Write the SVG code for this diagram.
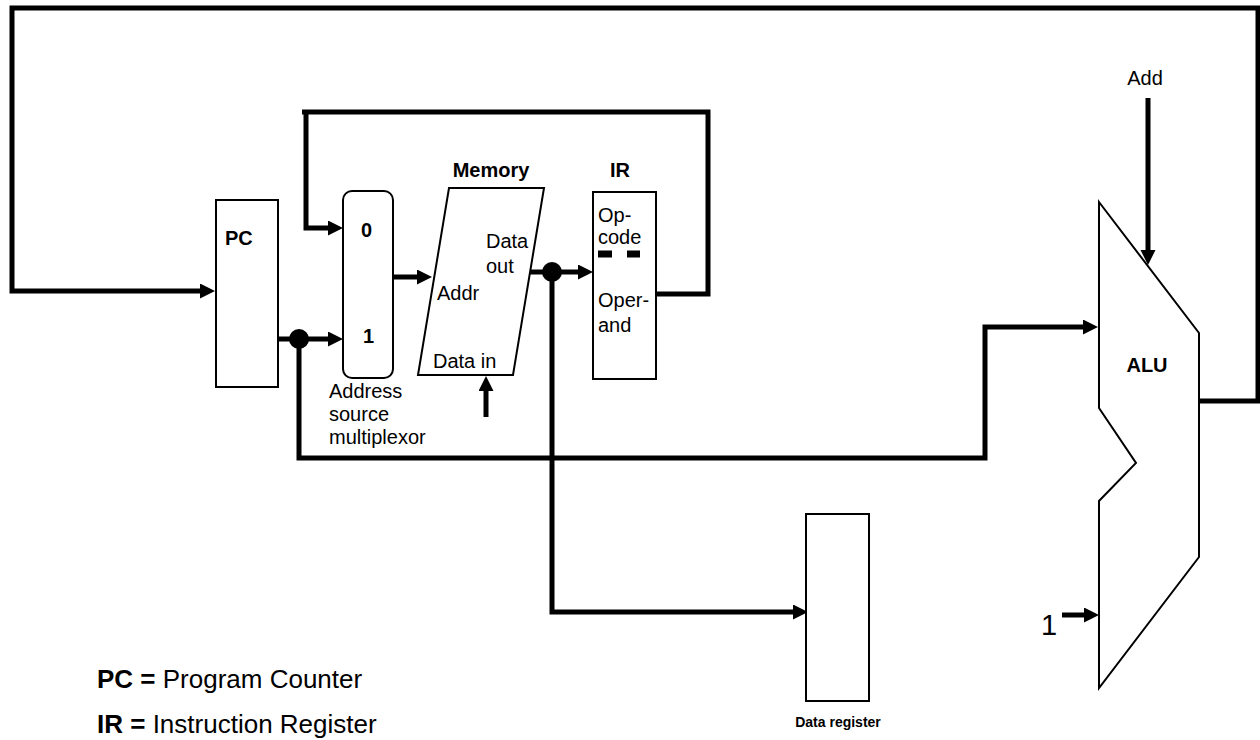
<svg xmlns="http://www.w3.org/2000/svg" width="1260" height="740" viewBox="0 0 1260 740">
<defs>
<style>
.box{fill:#fff;stroke:#000;stroke-width:2}
.w{fill:none;stroke:#000;stroke-width:5}
.t{font-family:"Liberation Sans",Arial,sans-serif;fill:#000;font-size:20px}
.b{font-weight:bold}
</style>
<marker id="ah" markerWidth="16" markerHeight="16" refX="0" refY="7.5" orient="auto" markerUnits="userSpaceOnUse">
<path d="M0,0 L15,7.5 L0,15 Z" fill="#000"/>
</marker>
</defs>
<rect width="1260" height="740" fill="#fff"/>
<g id="connectors">
<path class="w" d="M1199,401 H1258 V8 H12 V291 H200" marker-end="url(#ah)"/>
<path class="w" d="M302,112 H708 V294 H656"/>
<path class="w" d="M306,112 V228 H328" marker-end="url(#ah)"/>
<path class="w" d="M278,339 H328" marker-end="url(#ah)"/>
<path class="w" d="M299,339 V458 H985 V327 H1083" marker-end="url(#ah)"/>
<path class="w" d="M393,277 H417" marker-end="url(#ah)"/>
<path class="w" d="M486,417 V391" marker-end="url(#ah)"/>
<path class="w" d="M530,272 H578" marker-end="url(#ah)"/>
<path class="w" d="M552,272 V612 H793" marker-end="url(#ah)"/>
<path class="w" d="M1148,98 V250" marker-end="url(#ah)"/>
<path class="w" d="M1062,615 H1084" marker-end="url(#ah)"/>
<circle cx="299" cy="339" r="10" fill="#000"/>
<circle cx="552" cy="272" r="10" fill="#000"/>
</g>
<g id="pc">
<rect class="box" x="216" y="200" width="62" height="187"/>
<text class="t b" x="225" y="245">PC</text>
</g>
<g id="mux">
<rect class="box" x="343" y="191" width="50" height="187" rx="9"/>
<text class="t b" x="361" y="237">0</text>
<text class="t b" x="363" y="343">1</text>
<text class="t" x="329" y="398">Address</text>
<text class="t" x="329" y="421">source</text>
<text class="t" x="329" y="444">multiplexor</text>
</g>
<g id="memory">
<polygon class="box" points="449,188 544,188 513,375 418,375"/>
<text class="t b" x="491" y="177" text-anchor="middle">Memory</text>
<text class="t" x="486" y="248">Data</text>
<text class="t" x="486" y="273">out</text>
<text class="t" x="437" y="300">Addr</text>
<text class="t" x="433" y="368">Data in</text>
</g>
<g id="ir">
<rect class="box" x="593" y="192" width="63" height="187"/>
<text class="t b" x="620" y="177" text-anchor="middle">IR</text>
<text class="t" x="598" y="222">Op-</text>
<text class="t" x="598" y="244">code</text>
<path d="M598,254 H612 M627,254 H640" stroke="#000" stroke-width="7"/>
<text class="t" x="598" y="307">Oper-</text>
<text class="t" x="598" y="332">and</text>
</g>
<g id="dataregister">
<rect class="box" x="806" y="514" width="63" height="187"/>
<text class="t b" x="838" y="727" style="font-size:14px" text-anchor="middle">Data register</text>
</g>
<g id="alu">
<polygon class="box" points="1099,202 1199,333 1199,557 1099,688 1099,501 1136,463 1099,408"/>
<text class="t b" x="1147" y="372" text-anchor="middle">ALU</text>
<text class="t" x="1145" y="85" text-anchor="middle">Add</text>
<text class="t" x="1049" y="635" style="font-size:29px" text-anchor="middle">1</text>
</g>
<g id="legend">
<text class="t" x="97" y="688" style="font-size:26px"><tspan class="b">PC =</tspan> Program Counter</text>
<text class="t" x="97" y="733" style="font-size:26px"><tspan class="b">IR =</tspan> Instruction Register</text>
</g>
</svg>
